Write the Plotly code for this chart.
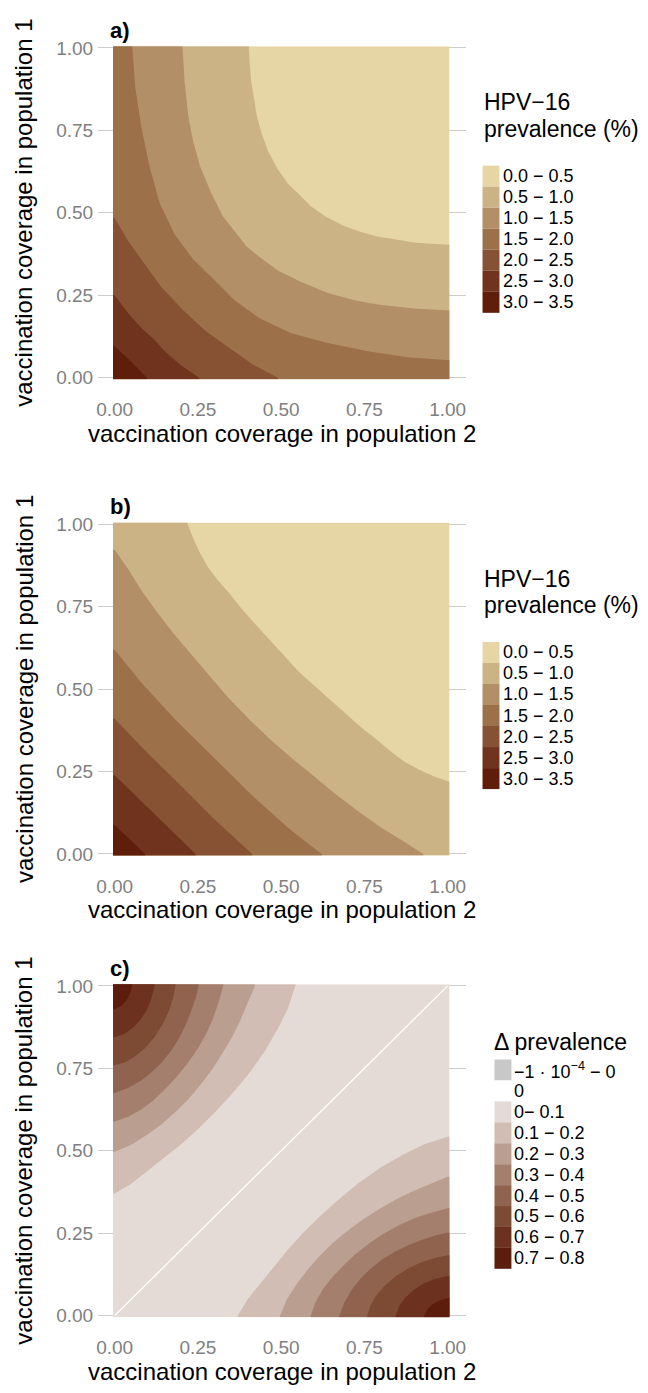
import plotly.graph_objects as go

W, H = 648, 1393
FONT = "Liberation Sans, Arial, sans-serif"

# ---------------- data ----------------
tick_vals = [0, 0.25, 0.5, 0.75, 1.0]
tick_text = ["0.00", "0.25", "0.50", "0.75", "1.00"]

prev_labels = ["0.0 − 0.5", "0.5 − 1.0", "1.0 − 1.5", "1.5 − 2.0",
               "2.0 − 2.5", "2.5 − 3.0", "3.0 − 3.5"]
prev_colors = ["#E6D6A5", "#CCB386", "#B38F68", "#9C7049",
               "#875233", "#70331D", "#5F1D0C"]
prev_levels = [0.5, 1.0, 1.5, 2.0, 2.5, 3.0]

# panel a: iso-prevalence boundaries (x = coverage pop. 2, y = coverage pop. 1)
a_05_x = [0.403, 0.406, 0.41, 0.418, 0.428, 0.442, 0.46, 0.488, 0.52, 0.555,
          0.589, 0.635, 0.689, 0.74, 0.789, 0.85, 0.90, 0.95, 1.0]
a_05_y = [1.0, 0.95, 0.90, 0.85, 0.789, 0.74, 0.689, 0.635, 0.589, 0.555,
          0.52, 0.488, 0.46, 0.442, 0.428, 0.418, 0.41, 0.406, 0.403]
a_10_x = [0.204, 0.207, 0.21, 0.221, 0.235, 0.257, 0.29, 0.325, 0.37, 0.397,
          0.43, 0.49, 0.56, 0.64, 0.72, 0.795, 0.90, 0.95, 1.0]
a_10_y = [1.0, 0.95, 0.90, 0.795, 0.72, 0.64, 0.56, 0.49, 0.43, 0.397,
          0.37, 0.325, 0.29, 0.257, 0.235, 0.221, 0.21, 0.207, 0.204]
a_15_x = [0.053, 0.062, 0.08, 0.105, 0.135, 0.18, 0.235, 0.298, 0.36, 0.435, 0.53, 0.64, 0.76, 0.88, 1.0]
a_15_y = [1.0, 0.88, 0.76, 0.64, 0.53, 0.435, 0.36, 0.298, 0.235, 0.18, 0.135, 0.105, 0.08, 0.062, 0.053]
a_20_x = [0.0, 0.04, 0.09, 0.14, 0.205, 0.275, 0.345, 0.415, 0.49]
a_20_y = [0.484, 0.415, 0.345, 0.275, 0.205, 0.14, 0.09, 0.04, 0.0]
a_25_x = [0.0, 0.04, 0.081, 0.117, 0.15, 0.196, 0.254]
a_25_y = [0.25, 0.196, 0.15, 0.117, 0.081, 0.04, 0.0]
a_30_x = [0.0, 0.024, 0.049, 0.073, 0.097]
a_30_y = [0.095, 0.073, 0.049, 0.024, 0.0]

# panel b
b_05_x = [0.219, 0.235, 0.255, 0.28, 0.31, 0.345, 0.38, 0.42, 0.465, 0.51, 0.553,
          0.60, 0.65, 0.70, 0.745, 0.79, 0.83, 0.87, 0.915, 0.96, 1.0]
b_05_y = [1.0, 0.96, 0.915, 0.87, 0.83, 0.79, 0.745, 0.70, 0.65, 0.60, 0.553,
          0.51, 0.465, 0.42, 0.38, 0.345, 0.31, 0.28, 0.255, 0.235, 0.219]
b_10_x = [0.0, 0.04, 0.08, 0.13, 0.18, 0.23, 0.28, 0.34, 0.406, 0.475, 0.545, 0.605,
          0.665, 0.73, 0.80, 0.865, 0.927]
b_10_y = [0.923, 0.865, 0.80, 0.73, 0.665, 0.605, 0.545, 0.475, 0.406, 0.34, 0.28, 0.23,
          0.18, 0.13, 0.08, 0.04, 0.0]
b_15_x = [0.0, 0.04, 0.08, 0.13, 0.18, 0.235, 0.295, 0.355, 0.41, 0.465, 0.52, 0.57, 0.622]
b_15_y = [0.619, 0.568, 0.52, 0.465, 0.41, 0.355, 0.295, 0.235, 0.18, 0.13, 0.08, 0.04, 0.0]
b_20_x = [0.0, 0.1, 0.203, 0.305, 0.413]
b_20_y = [0.41, 0.305, 0.203, 0.1, 0.0]
b_25_x = [0.0, 0.12, 0.243]
b_25_y = [0.239, 0.12, 0.0]
b_30_x = [0.0, 0.045, 0.091]
b_30_y = [0.088, 0.045, 0.0]

# panel c: difference, boundaries of the upper-left corner lobe
# (the lower-right lobe is the same boundary with the two coverages swapped)
delta_labels = ["−1 · 10<sup>−4</sup> − 0", "0", "0− 0.1", "0.1 − 0.2", "0.2 − 0.3",
                "0.3 − 0.4", "0.4 − 0.5", "0.5 − 0.6", "0.6 − 0.7", "0.7 − 0.8"]
delta_colors = ["#C8C8C8", "#FFFFFF", "#E4DBD6", "#D1BDB3", "#BA9E90",
                "#A47F6E", "#90634F", "#7D4A34", "#6C321F", "#5C1D0D"]
delta_levels = [0.1, 0.2, 0.3, 0.4, 0.5, 0.6, 0.7]

c_01_x = [0.0, 0.05, 0.10, 0.15, 0.20, 0.25, 0.30, 0.35, 0.40, 0.45, 0.49, 0.52, 0.544]
c_01_y = [0.37, 0.40, 0.44, 0.48, 0.52, 0.565, 0.615, 0.67, 0.73, 0.80, 0.87, 0.93, 1.0]
c_02_x = [0.0, 0.05, 0.10, 0.14, 0.18, 0.22, 0.25, 0.29, 0.32, 0.35, 0.375, 0.397, 0.421]
c_02_y = [0.497, 0.518, 0.55, 0.58, 0.615, 0.655, 0.69, 0.743, 0.79, 0.84, 0.89, 0.94, 1.0]
c_03_x = [0.0, 0.04, 0.08, 0.115, 0.15, 0.185, 0.22, 0.25, 0.275, 0.295, 0.312, 0.327]
c_03_y = [0.589, 0.603, 0.625, 0.652, 0.685, 0.722, 0.766, 0.81, 0.855, 0.90, 0.95, 1.0]
c_04_x = [0.0, 0.04, 0.08, 0.11, 0.14, 0.17, 0.195, 0.215, 0.232, 0.244, 0.252]
c_04_y = [0.675, 0.69, 0.713, 0.737, 0.766, 0.803, 0.844, 0.885, 0.93, 0.965, 1.0]
c_05_x = [0.0, 0.03, 0.06, 0.09, 0.12, 0.145, 0.163, 0.175, 0.183]
c_05_y = [0.759, 0.768, 0.785, 0.81, 0.845, 0.885, 0.925, 0.962, 1.0]
c_06_x = [0.0, 0.03, 0.055, 0.078, 0.097, 0.11, 0.12]
c_06_y = [0.844, 0.855, 0.873, 0.898, 0.928, 0.96, 1.0]
c_07_x = [0.0, 0.02, 0.035, 0.046, 0.053]
c_07_y = [0.929, 0.94, 0.956, 0.976, 1.0]

# delta = 0 along the diagonal
zero_x = [0.0, 1.0]
zero_y = [0.0, 1.0]

# ---------------- geometry helpers (window pixels) ----------------
LO, HI = -0.005, 1.005        # raster extent (half a grid cell beyond 0..1)
X_LEFT_PX, X_RIGHT_PX = 96.5, 465.5
X0_PX, PX_PER_UNIT = 113.0, 334.0
PANEL_Y1 = [39.5, 522.0, 989.7]   # pixel row of y = 1 for each panel
SCALE_Y = 334.0


def px(x):
    return x / W


def py(y):
    return 1 - y / H


def origin_region(cx, cy):
    """Region between the corner (0,0) and a boundary curve."""
    xs, ys = [LO], [LO]
    if cx[0] <= 0:
        xs += [LO]; ys += [cy[0]]
    else:
        xs += [LO, cx[0]]; ys += [HI, HI]
    xs += list(cx); ys += list(cy)
    if cy[-1] <= 0:
        xs += [cx[-1]]; ys += [LO]
    else:
        xs += [HI, HI]; ys += [cy[-1], LO]
    return xs, ys


def corner_region(cx, cy):
    """Region between the corner (0,1) and a boundary curve from left to top edge."""
    xs = [LO, LO] + list(cx) + [cx[-1]]
    ys = [HI, cy[0]] + list(cy) + [HI]
    return xs, ys


fig = go.Figure()


def poly(xs, ys, color, k):
    fig.add_trace(go.Scatter(
        x=xs, y=ys, mode="lines", fill="toself", fillcolor=color,
        line=dict(width=0, color=color), hoverinfo="skip", showlegend=False,
        xaxis="x" if k == 1 else f"x{k}", yaxis="y" if k == 1 else f"y{k}"))


# panels a and b
panel_curves = {
    1: [(a_05_x, a_05_y), (a_10_x, a_10_y), (a_15_x, a_15_y),
        (a_20_x, a_20_y), (a_25_x, a_25_y), (a_30_x, a_30_y)],
    2: [(b_05_x, b_05_y), (b_10_x, b_10_y), (b_15_x, b_15_y),
        (b_20_x, b_20_y), (b_25_x, b_25_y), (b_30_x, b_30_y)],
}
for k, curves in panel_curves.items():
    poly([LO, HI, HI, LO], [LO, LO, HI, HI], prev_colors[0], k)
    for i, (cx, cy) in enumerate(curves):
        xs, ys = origin_region(cx, cy)
        poly(xs, ys, prev_colors[i + 1], k)

# panel c
c_curves = [(c_01_x, c_01_y), (c_02_x, c_02_y), (c_03_x, c_03_y), (c_04_x, c_04_y),
            (c_05_x, c_05_y), (c_06_x, c_06_y), (c_07_x, c_07_y)]
poly([LO, HI, HI, LO], [LO, LO, HI, HI], delta_colors[2], 3)
for i, (cx, cy) in enumerate(c_curves):
    xs, ys = corner_region(cx, cy)
    poly(xs, ys, delta_colors[i + 3], 3)
    poly(ys, xs, delta_colors[i + 3], 3)
fig.add_trace(go.Scatter(x=zero_x, y=zero_y, mode="lines",
                         line=dict(color="white", width=1.3),
                         hoverinfo="skip", showlegend=False, xaxis="x3", yaxis="y3"))

# ---------------- axes ----------------
x_range = [(X_LEFT_PX - X0_PX) / PX_PER_UNIT, (X_RIGHT_PX - X0_PX) / PX_PER_UNIT]
layout = {}
for k, y1 in enumerate(PANEL_Y1, start=1):
    top = y1 - (HI - 1) * SCALE_Y
    bot = y1 + (1 - LO) * SCALE_Y
    sx = "" if k == 1 else str(k)
    layout[f"xaxis{sx}"] = dict(
        domain=[px(X_LEFT_PX), px(X_RIGHT_PX)], range=x_range, anchor=f"y{sx}",
        tickvals=tick_vals, ticktext=tick_text, showgrid=False, zeroline=False,
        showline=False, ticks="", ticklabelstandoff=17,
        tickfont=dict(family=FONT, size=19, color="#7F7F7F"), fixedrange=True)
    layout[f"yaxis{sx}"] = dict(
        domain=[py(bot), py(top)], range=[LO, HI], anchor=f"x{sx}",
        tickvals=tick_vals, ticktext=tick_text, showgrid=True,
        gridcolor="#CCCCCC", gridwidth=1.2, zeroline=False, showline=False,
        ticks="", ticklabelstandoff=4,
        tickfont=dict(family=FONT, size=19, color="#7F7F7F"), fixedrange=True)

annotations = []
shapes = []
panel_letters = ["a)", "b)", "c)"]
for k, y1 in enumerate(PANEL_Y1):
    y0 = y1 + SCALE_Y
    annotations.append(dict(text=f"<b>{panel_letters[k]}</b>", x=px(106), y=py(y1 - 17.5),
                            xref="paper", yref="paper", xanchor="left", yanchor="middle",
                            showarrow=False, font=dict(family=FONT, size=22, color="black")))
    annotations.append(dict(text="vaccination coverage in population 2", x=px(281),
                            y=py(y0 + 56.5), xref="paper", yref="paper",
                            xanchor="center", yanchor="middle", showarrow=False,
                            font=dict(family=FONT, size=24, color="black")))
    annotations.append(dict(text="vaccination coverage in population 1", x=px(22),
                            y=py((y0 + y1) / 2), xref="paper", yref="paper",
                            xanchor="center", yanchor="middle", textangle=-90,
                            showarrow=False, font=dict(family=FONT, size=24, color="black")))

# legends of panels a and b
KEY_H = 21.3
for k, y1 in enumerate(PANEL_Y1[:2]):
    off = y1 - PANEL_Y1[0]
    for line, yy in (("HPV−16", 94.5), ("prevalence (%)", 121.5)):
        annotations.append(dict(text=line, x=px(481), y=py(yy + off), xref="paper",
                                yref="paper", xanchor="left", yanchor="middle",
                                showarrow=False,
                                font=dict(family=FONT, size=23, color="black")))
    for i, (lab, col) in enumerate(zip(prev_labels, prev_colors)):
        t = 158.7 + off + i * KEY_H
        shapes.append(dict(type="rect", xref="paper", yref="paper",
                           x0=px(482), x1=px(499), y0=py(t + KEY_H), y1=py(t),
                           fillcolor=col, line=dict(width=0)))
        annotations.append(dict(text=lab, x=px(501), y=py(t + KEY_H / 2), xref="paper",
                                yref="paper", xanchor="left", yanchor="middle",
                                showarrow=False,
                                font=dict(family=FONT, size=18, color="black")))

# legend of panel c
annotations.append(dict(text="Δ prevalence", x=px(492), y=py(1047), xref="paper",
                        yref="paper", xanchor="left", yanchor="middle", showarrow=False,
                        font=dict(family=FONT, size=23, color="black")))
for i, (lab, col) in enumerate(zip(delta_labels, delta_colors)):
    t = 1064.3 + i * 21.2
    shapes.append(dict(type="rect", xref="paper", yref="paper",
                       x0=px(494), x1=px(511), y0=py(t + 21.2), y1=py(t),
                       fillcolor=col, line=dict(width=0)))
    annotations.append(dict(text=lab, x=px(512), y=py(t + 10.6), xref="paper",
                            yref="paper", xanchor="left", yanchor="middle",
                            showarrow=False, font=dict(family=FONT, size=18, color="black")))

fig.update_layout(
    width=W, height=H, margin=dict(l=0, r=0, t=0, b=0),
    paper_bgcolor="white", plot_bgcolor="white", showlegend=False,
    annotations=annotations, shapes=shapes, **layout)

fig.write_html("out.html", config={"displayModeBar": False})
